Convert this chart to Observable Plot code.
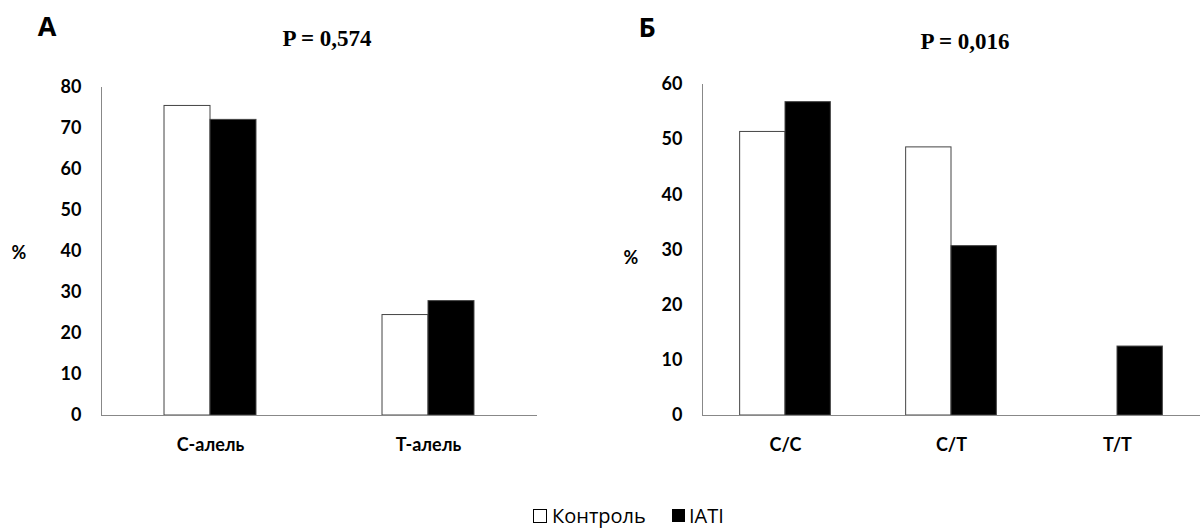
<!DOCTYPE html>
<html><head><meta charset="utf-8">
<script src="https://cdn.jsdelivr.net/npm/d3@7"></script>
<script src="https://cdn.jsdelivr.net/npm/@observablehq/plot@0.6"></script>
<style>
body{margin:0;background:#fff;}
#wrap{position:relative;width:1200px;height:528px;overflow:hidden;background:#fff;font-family:"Open Sans",sans-serif;color:#000;}
.abs{position:absolute;line-height:1;white-space:nowrap;transform:translate(-50%,-50%);}
.panel{font-family:"Open Sans",sans-serif;font-weight:700;font-size:27px;}
.ptitle{font-family:"Liberation Serif","Times New Roman",serif;font-weight:700;font-size:23px;}
.pct{font-family:Lato,sans-serif;font-weight:700;font-size:18px;}
.chart{position:absolute;top:0;}
.leg{position:absolute;font-family:"Open Sans",sans-serif;font-size:20px;line-height:1;white-space:nowrap;transform:translateY(-50%);}
.sw{position:absolute;box-sizing:border-box;border:1px solid #000;}
</style></head><body>
<div id="wrap">
  <div id="left" class="chart" style="left:0"></div>
  <div id="right" class="chart" style="left:600px"></div>
  <div class="abs panel" style="left:47px;top:25px">А</div>
  <div class="abs panel" style="left:647px;top:26px">Б</div>
  <div class="abs ptitle" style="left:327px;top:38px">P = 0,574</div>
  <div class="abs ptitle" style="left:965px;top:41px">P = 0,016</div>
  <div class="abs pct" style="left:19px;top:252px">%</div>
  <div class="abs pct" style="left:631px;top:257px">%</div>
  <div class="sw" style="left:533px;top:509px;width:14px;height:14px;background:#fff"></div>
  <div class="leg" style="left:552px;top:516px">Контроль</div>
  <div class="sw" style="left:672px;top:509px;width:13px;height:13px;background:#000"></div>
  <div class="leg" style="left:689px;top:516px">IATI</div>
</div>
<script>
const series = ["Контроль", "IATI"];
const seriesColors = ["white", "black"];

const alleleCats = ["C-алель", "T-алель"];
const alleleControl = [75.5, 24.5];
const alleleIATI = [72.1, 27.9];
const alleleTicks = [0, 10, 20, 30, 40, 50, 60, 70, 80];

const genoCats = ["C/C", "C/T", "T/T"];
const genoControl = [51.4, 48.6, 0];
const genoIATI = [56.8, 30.7, 12.5];
const genoTicks = [0, 10, 20, 30, 40, 50, 60];

function makeChart(cats, ctrl, iati, ticks, opts) {
  const data = [];
  cats.forEach((c, i) => {
    data.push({cat: c, series: series[0], value: ctrl[i]});
    data.push({cat: c, series: series[1], value: iati[i]});
  });
  return Plot.plot({
    width: opts.width,
    height: 470,
    marginLeft: opts.marginLeft,
    marginRight: opts.marginRight,
    marginTop: opts.marginTop,
    marginBottom: 55,
    style: {fontFamily: "Lato, sans-serif", fontSize: "18px", fontWeight: "700", color: "#000", background: "transparent"},
    fx: {domain: cats, padding: 0, label: null, tickSize: 0, tickPadding: 23, axis: "bottom"},
    x: {domain: series, axis: null, paddingInner: 0, paddingOuter: opts.po, round: false},
    y: {domain: [0, ticks[ticks.length - 1]], ticks: ticks, tickSize: 0, tickPadding: 20, label: null},
    color: {domain: series, range: seriesColors},
    marks: [
      Plot.barY(data, {fx: "cat", x: "series", y: "value", fill: "series", stroke: "#444", strokeWidth: 1, filter: d => d.value > 0}),
      Plot.ruleY([0], {stroke: "#888", strokeWidth: 1}),
      Plot.frame({anchor: "left", stroke: "#888", strokeWidth: 1, facetAnchor: "left"})
    ]
  });
}

document.getElementById("left").appendChild(
  makeChart(alleleCats, alleleControl, alleleIATI, alleleTicks,
    {width: 560, marginLeft: 100, marginRight: 23, marginTop: 87, po: 1.37}));
document.getElementById("right").appendChild(
  makeChart(genoCats, genoControl, genoIATI, genoTicks,
    {width: 600, marginLeft: 102, marginRight: 0, marginTop: 84, po: 0.83}));
</script>
</body></html>
